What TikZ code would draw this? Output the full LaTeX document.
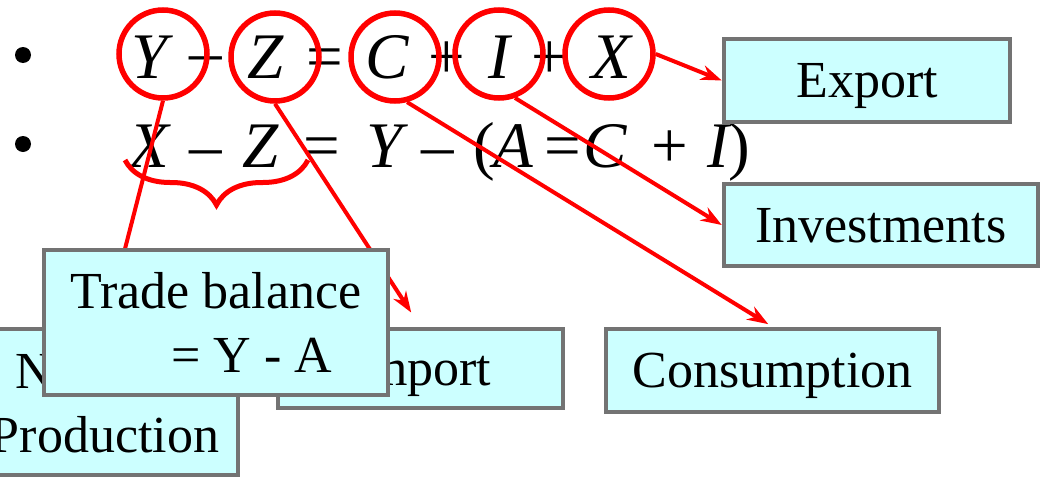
\documentclass[tikz,border=0pt]{standalone}
\usepackage{fontspec}
\setmainfont{Liberation Serif}
\usetikzlibrary{arrows.meta,shapes.geometric,decorations.pathreplacing}
\definecolor{redline}{HTML}{FF0000}
\definecolor{boxfill}{HTML}{CCFFFF}
\definecolor{boxline}{HTML}{737373}
\tikzset{box/.style={draw=boxline,fill=boxfill,line width=4.5pt,inner sep=0pt,font=\fontsize{52}{64}\selectfont,text depth=0pt},circ/.style={draw=redline,ellipse,line width=5.5pt,minimum width=88pt,minimum height=88pt,inner sep=0pt},arr/.style={-{Stealth[length=21pt,width=15pt]},line width=4pt,draw=redline},sym/.style={anchor=base,font=\fontsize{65}{70}\selectfont,inner sep=0pt}}

\begin{document}
\begin{tikzpicture}[x=1pt,y=-1pt]
\useasboundingbox (0,0) rectangle (1043,479);
\fill (23,55) circle (8pt);
\fill (23,144) circle (8pt);
\foreach \x/\s [count=\k] in {150/\itshape Y,206/\raisebox{5pt}{–},266/\itshape Z,325/=,387/\itshape C,447/+,499/\itshape I,550/+,611/\itshape X}{\node[sym] (top\k) at (\x,78) {\s};}
\foreach \x/\s [count=\k] in {149/\itshape X,206/–,261/\itshape Z,322/=,385/\itshape Y,438/–,484/{(},513/\itshape A,563/=,605/\itshape C,670/+,718/\itshape I,739/{)}}{\node[sym] (bot\k) at (\x,167) {\s};}
\coordinate (bl) at (125,160);
\coordinate (br) at (308,160);
\draw[redline,line width=5pt,decorate,decoration={brace,mirror,amplitude=45pt}] (bl) -- (br);
\node[circ] (cy) at (163,54) {};
\node[circ] (cz) at (275,57) {};
\node[circ] (cc) at (395,57) {};
\node[circ] (ci) at (499,54) {};
\node[circ] (cx) at (609,54) {};
\node[box,minimum width=286pt,minimum height=83pt] (exp) at (867,80.5) {Export};
\node[box,minimum width=314pt,minimum height=82pt] (inv) at (881,225) {Investments};
\node[box,minimum width=333pt,minimum height=83pt] (cons) at (772.5,370.5) {Consumption};
\node[box,minimum width=285pt,minimum height=79pt] (imp) at (420.5,368.5) {Import};
\node[box,minimum width=266pt,minimum height=146pt,align=center] (np) at (105,402) {National\\Production};
\draw[arr] (cy.south) -- (np.north);
\draw[arr,shorten >=17pt] (cz.south) -- (imp.north);
\draw[arr,shorten >=5pt] (cc.-75) -- (cons.north);
\draw[arr] (ci.-70) -- (inv.west);
\draw[arr] (cx.east) -- (exp.west);
\node[box,minimum width=344pt,minimum height=145pt,align=left] (tb) at (216,322.5) {Trade balance\\\hspace*{101pt}= Y - A};
\end{tikzpicture}
\end{document}
